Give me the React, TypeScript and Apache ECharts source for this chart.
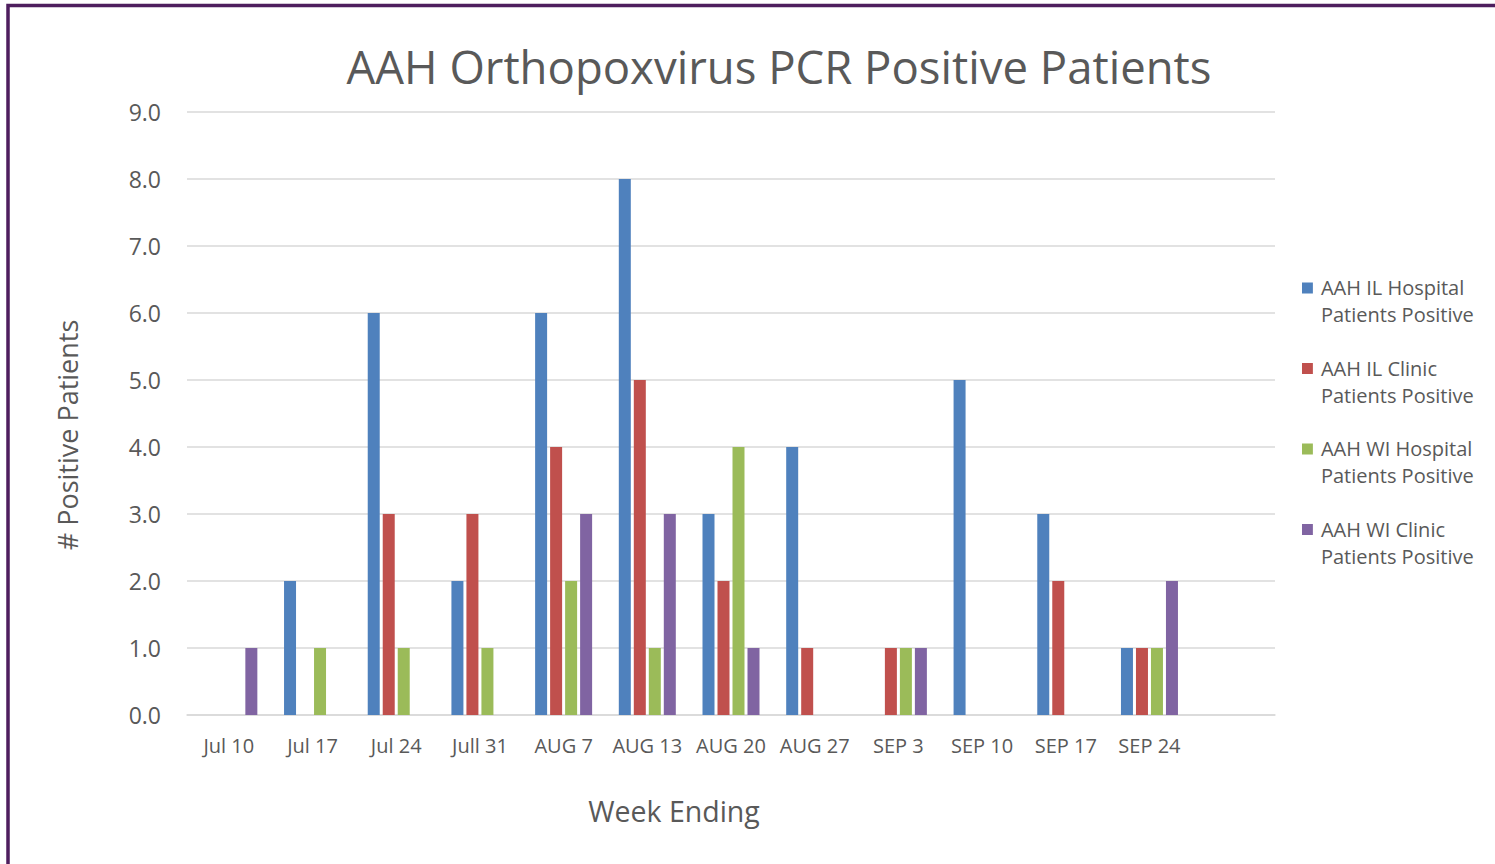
import React, { useEffect, useRef } from "react";
import * as echarts from "echarts";

const categories = ["Jul 10", "Jul 17", "Jul 24", "Jull 31", "AUG 7", "AUG 13", "AUG 20", "AUG 27", "SEP 3", "SEP 10", "SEP 17", "SEP 24", ""];
const seriesNames = [
  "AAH IL Hospital\nPatients Positive",
  "AAH IL Clinic\nPatients Positive",
  "AAH WI Hospital\nPatients Positive",
  "AAH WI Clinic\nPatients Positive",
];
const ilHospital = [0, 2, 6, 2, 6, 8, 3, 4, 0, 5, 3, 1, null];
const ilClinic = [0, 0, 3, 3, 4, 5, 2, 1, 1, 0, 2, 1, null];
const wiHospital = [0, 1, 1, 1, 2, 1, 4, 0, 1, 0, 0, 1, null];
const wiClinic = [1, 0, 0, 0, 3, 3, 1, 0, 1, 0, 0, 2, null];
const colors = ["#4F81BD", "#C0504D", "#9BBB59", "#8064A2"];

const FONT = "'Open Sans', sans-serif";
const TXT = "#595959";

export default function App() {
  const ref = useRef<HTMLDivElement>(null);
  useEffect(() => {
    document.body.style.margin = "0";
    const chart = echarts.init(ref.current!, null, { renderer: "svg" });
    const values = [ilHospital, ilClinic, wiHospital, wiClinic];
    chart.setOption({
      animation: false,
      backgroundColor: "#ffffff",
      title: {
        text: "AAH Orthopoxvirus PCR Positive Patients",
        left: 774,
        top: 38,
        textAlign: "center",
        textStyle: { fontFamily: FONT, fontSize: 45.5, fontWeight: "normal", color: TXT },
      },
      legend: {
        orient: "vertical",
        left: 1302,
        top: 274,
        padding: 0,
        itemWidth: 11,
        itemHeight: 37,
        itemGap: 26.5,
        icon: "path://M0,0h10v10h-10z M0,34h0.01v0.01h-0.01z",
        textStyle: { fontFamily: FONT, fontSize: 20, color: TXT, lineHeight: 27, padding: [0, 0, 0, 3] },
        data: seriesNames,
      },
      grid: { left: 187, right: 220, top: 112, bottom: 149, containLabel: false },
      xAxis: {
        type: "category",
        data: categories,
        axisLine: { show: true, lineStyle: { color: "#D9D9D9", width: 1.5 } },
        axisTick: { show: false },
        axisLabel: { fontFamily: FONT, fontSize: 20, color: TXT, margin: 20, interval: 0 },
      },
      yAxis: {
        type: "value",
        min: 0,
        max: 9,
        interval: 1,
        axisLine: { show: false },
        axisTick: { show: false },
        splitLine: { lineStyle: { color: "#D9D9D9", width: 1.5 } },
        axisLabel: { fontFamily: FONT, fontSize: 23, color: TXT, margin: 26, formatter: (v: number) => v.toFixed(1) },
      },
      graphic: [
        {
          type: "rect",
          shape: { x: 8, y: 5.5, width: 3000, height: 3000 },
          style: { fill: "none", stroke: "#4E1E5E", lineWidth: 3.5 },
          silent: true,
        },
        {
          type: "text",
          x: 67,
          y: 435,
          rotation: Math.PI / 2,
          style: { text: "# Positive Patients", font: `27px ${FONT}`, fill: TXT, textAlign: "center", textVerticalAlign: "middle" },
        },
        {
          type: "text",
          x: 674,
          y: 811,
          style: { text: "Week Ending", font: `28.5px ${FONT}`, fill: TXT, textAlign: "center", textVerticalAlign: "middle" },
        },
      ],
      series: seriesNames.map((name, i) => ({
        name,
        type: "bar",
        data: values[i],
        itemStyle: { color: colors[i] },
        barWidth: 12,
        barGap: "25%",
        barCategoryGap: "32%",
      })),
    });
    return () => chart.dispose();
  }, []);
  return <div ref={ref} style={{ position: "fixed", left: 0, top: 0, width: 1495, height: 864 }} />;
}
